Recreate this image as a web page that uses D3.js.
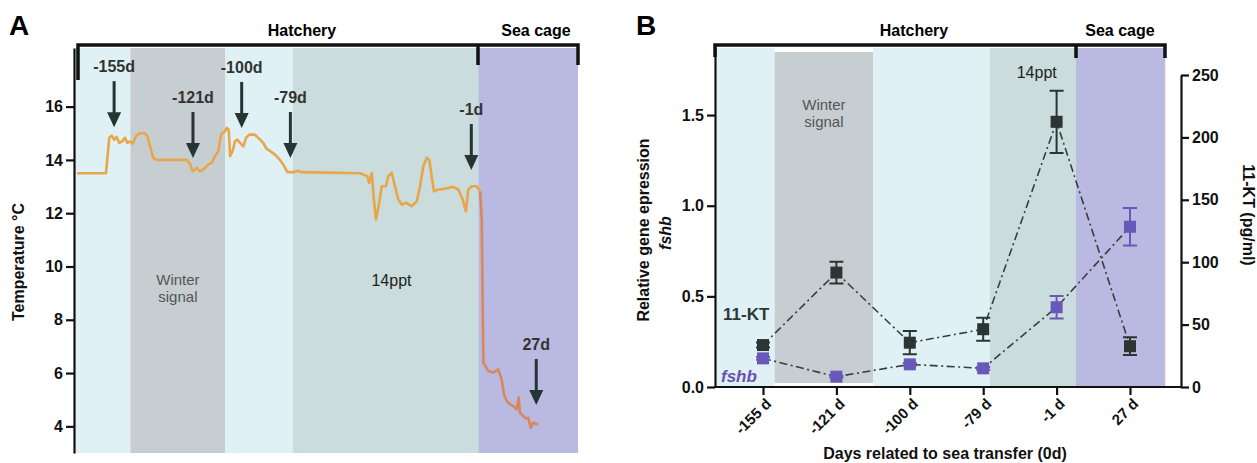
<!DOCTYPE html>
<html>
<head>
<meta charset="utf-8">
<script src="https://cdn.jsdelivr.net/npm/d3@7"></script>
<style>
body { margin: 0; background: #fff; }
svg { font-family: "Liberation Sans", Arial, sans-serif; }
</style>
</head>
<body>
<svg id="fig" width="1257" height="463"></svg>
<script>
// ---- panel A : water temperature (days relative to sea transfer) ----
var hatchDays = [-171, -158.5, -157.1, -156, -155, -153.9, -152.8, -151.5, -150.3, -149.3, -148.1, -147, -145.6, -144.1,
    -141.7, -140.7, -139.5, -138.1, -136.6, -123.7, -122.3, -121.1, -119.4, -118, -116.2, -114.4, -112.9, -111.5,
    -110.1, -109.3, -108.6, -107.2, -106.5, -105.6, -105, -103.9, -102.9, -101.9, -100.7, -99.3, -98.1, -96.7,
    -94.3, -92.4, -90.7, -89.2, -87.5, -85.6, -83.5, -82.1, -80.3, -77.7, -75.6, -74.1, -49, -45.8, -45, -43.9,
    -43, -42.1, -41.1, -39.6, -37.8, -36.8, -35.3, -33.9, -32.5, -31, -28.9, -26.7, -24.5, -23.1, -21.7, -20.2,
    -19.1, -18.1, -17.1, -15.2, -13.1, -10.9, -8.8, -6.6, -4.7, -3.3, -2.3, -0.8, 1.3, 2.8];
var hatchTemp = [13.5, 13.5, 14.83, 14.91, 14.76, 14.86, 14.64, 14.7, 14.83, 14.64, 14.7, 14.6, 14.89, 15.0,
    15.0, 14.89, 14.51, 14.07, 14.0, 14.0, 13.86, 13.57, 13.7, 13.57, 13.66, 13.83, 13.89, 14.14,
    14.32, 14.76, 15.0, 15.07, 15.2, 15.14, 14.14, 14.33, 14.7, 14.76, 14.64, 14.51, 14.83, 14.95,
    14.95, 14.79, 14.64, 14.41, 14.32, 14.2, 14.0, 13.83, 13.54, 13.54, 13.59, 13.54, 13.5, 13.39, 13.14, 13.51,
    12.51, 11.76, 12.2, 13.01, 13.01, 13.39, 13.51, 13.01, 12.51, 12.33, 12.39, 12.26, 12.45, 13.01, 13.76, 14.08,
    14.0, 13.39, 12.82, 12.89, 12.91, 12.95, 12.99, 12.89, 12.51, 12.07, 12.89, 13.01, 13.01, 12.82];
var seaDays = [2.8, 3.5, 4.2, 6.3, 8.5, 10.6, 12.1, 13.1, 14.3, 15.7, 17.1, 18.6, 19.4, 20, 21.4, 22.6, 23.6, 24.6, 25.7, 26.9, 27.9];
var seaTemp = [12.82, 11.76, 6.39, 6.08, 6.02, 6.14, 5.76, 5.2, 4.95, 4.83, 4.76, 4.64, 5.08, 4.51, 4.39, 4.29, 4.32, 3.95, 4.14, 4.08, 4.1];
var tempTicks = [4, 6, 8, 10, 12, 14, 16];

var arrowDays = [-155, -121, -100, -79, -1, 27];
var arrowLabels = ["-155d", "-121d", "-100d", "-79d", "-1d", "27d"];
var arrowTipTemp = [15.23, 14.07, 15.2, 14.07, 13.62, 4.8];

var regionKind = ["pre", "winter", "pre", "salt", "sea"];
var regionStartA = [-172, -148, -107, -78, 2];
var regionEndA = [-148, -107, -78, 2, 45];

// ---- panel B : fshb expression and 11-KT ----
var sampleLabels = ["-155 d", "-121 d", "-100 d", "-79 d", "-1 d", "27 d"];
var ktMean = [33.6, 91.7, 35.5, 46.3, 212.5, 32.7];
var ktErr = [2, 8.7, 9.3, 9.2, 24.9, 7.1];
var fshbMean = [0.158, 0.057, 0.125, 0.103, 0.44, 0.884];
var fshbErr = [0.008, 0.005, 0.008, 0.008, 0.062, 0.103];
var geneTicks = [0, 0.5, 1.0, 1.5];
var ktTicks = [0, 50, 100, 150, 200, 250];
// region edges in units of sample index
var regionStartB = [-0.63, 0.16, 1.5, 3.09, 4.26];
var regionEndB = [0.16, 1.5, 3.09, 4.26, 5.48];

var regionFill = {pre: "#e0f1f6", winter: "#c6ced1", salt: "#cadcdc", sea: "#b9b9e1"};
var ink = "#111";

var svg = d3.select("#fig");

function styleAxis(g) {
    g.selectAll("path, line").attr("stroke", ink).attr("stroke-width", 2.2);
    g.selectAll("text").attr("fill", ink).style("font-size", "16px").style("font-weight", "bold");
}

// ================= A =================
var xA = d3.scaleLinear().domain([-171, 45]).range([77, 578]);
var yA = d3.scaleLinear().domain([3, 18.2]).range([453, 48]);
var gA = svg.append("g");

gA.selectAll("rect.reg").data(regionKind).enter().append("rect")
    .attr("class", "reg")
    .attr("x", function(d, i) { return xA(regionStartA[i]); })
    .attr("width", function(d, i) { return xA(regionEndA[i]) - xA(regionStartA[i]); })
    .attr("y", yA(18.2))
    .attr("height", yA(3) - yA(18.2))
    .attr("fill", function(d) { return regionFill[d]; });

var wA = (xA(regionStartA[1]) + xA(regionEndA[1])) / 2;
var winterA = gA.append("text").attr("x", wA).attr("y", 285)
    .attr("text-anchor", "middle").attr("fill", "#555").style("font-size", "15px");
winterA.append("tspan").attr("x", wA).text("Winter");
winterA.append("tspan").attr("x", wA).attr("dy", 17).text("signal");
gA.append("text").attr("x", (xA(regionStartA[3]) + xA(regionEndA[3])) / 2 + 6).attr("y", 286)
    .attr("text-anchor", "middle").attr("fill", "#222").style("font-size", "16px").text("14ppt");

var lineA = d3.line().x(function(d) { return xA(d[0]); }).y(function(d) { return yA(d[1]); });
gA.append("path").datum(d3.zip(hatchDays, hatchTemp)).attr("d", lineA)
    .attr("fill", "none").attr("stroke", "#e8a64a").attr("stroke-width", 2.6).attr("stroke-linejoin", "round");
gA.append("path").datum(d3.zip(seaDays, seaTemp)).attr("d", lineA)
    .attr("fill", "none").attr("stroke", "#d8875c").attr("stroke-width", 2.6).attr("stroke-linejoin", "round");

// sampling arrows
var arrowCol = "#263434";
var arr = gA.selectAll("g.arrow").data(arrowDays).enter().append("g").attr("class", "arrow")
    .attr("transform", function(d, i) { return "translate(" + xA(d) + "," + yA(arrowTipTemp[i]) + ")"; });
arr.append("line").attr("x1", 0).attr("x2", 0).attr("y1", -46).attr("y2", -12)
    .attr("stroke", arrowCol).attr("stroke-width", 3);
arr.append("path").attr("d", "M-7,-15L7,-15L0,0Z").attr("fill", arrowCol);
arr.append("text").attr("y", -55).attr("text-anchor", "middle").attr("fill", "#333")
    .style("font-size", "16px").style("font-weight", "bold")
    .text(function(d, i) { return arrowLabels[i]; });

gA.append("g").attr("transform", "translate(74,0)")
    .call(d3.axisLeft(yA).tickValues(tempTicks).tickSize(8).tickSizeOuter(0).tickPadding(3))
    .call(styleAxis);

gA.append("text").attr("transform", "translate(24,262) rotate(-90)").attr("text-anchor", "middle")
    .attr("fill", ink).style("font-size", "16px").style("font-weight", "bold").text("Temperature °C");

gA.append("path").attr("d", "M78,80V45H578V65M478,45V65")
    .attr("fill", "none").attr("stroke", ink).attr("stroke-width", 3.5);
gA.append("text").attr("x", 302).attr("y", 36).attr("text-anchor", "middle")
    .style("font-size", "16px").style("font-weight", "bold").text("Hatchery");
gA.append("text").attr("x", 536).attr("y", 36).attr("text-anchor", "middle")
    .style("font-size", "16px").style("font-weight", "bold").text("Sea cage");
gA.append("text").attr("x", 9).attr("y", 35)
    .style("font-size", "28px").style("font-weight", "bold").text("A");

// ================= B =================
var xB = d3.scalePoint().domain(sampleLabels).range([763, 1130]);
var xIdx = d3.scaleLinear().domain([0, sampleLabels.length - 1]).range(xB.range());
var yG = d3.scaleLinear().domain([0, 1.87]).range([387, 48]);
var yK = d3.scaleLinear().domain([0, 250]).range([387, 75]);
var gB = svg.append("g");

gB.selectAll("rect.reg").data(regionKind).enter().append("rect")
    .attr("class", "reg")
    .attr("x", function(d, i) { return xIdx(regionStartB[i]); })
    .attr("width", function(d, i) { return xIdx(regionEndB[i]) - xIdx(regionStartB[i]); })
    .attr("y", function(d) { return d == "winter" ? yG(1.87) + 4 : yG(1.87); })
    .attr("height", function(d) { return d == "winter" ? yG(0) - yG(1.87) - 8 : yG(0) - yG(1.87); })
    .attr("fill", function(d) { return regionFill[d]; });

var wB = (xIdx(regionStartB[1]) + xIdx(regionEndB[1])) / 2;
var winterB = gB.append("text").attr("x", wB).attr("y", 110)
    .attr("text-anchor", "middle").attr("fill", "#555").style("font-size", "15px");
winterB.append("tspan").attr("x", wB).text("Winter");
winterB.append("tspan").attr("x", wB).attr("dy", 17).text("signal");
gB.append("text").attr("x", (xIdx(regionStartB[3]) + xIdx(regionEndB[3])) / 2 + 4).attr("y", 78)
    .attr("text-anchor", "middle").attr("fill", "#222").style("font-size", "16px").text("14ppt");

var series = [
    {mean: fshbMean, err: fshbErr, y: yG, col: "#6858b8"},
    {mean: ktMean, err: ktErr, y: yK, col: "#2b3634"}
];
series.forEach(function(s) {
    var pts = sampleLabels.map(function(c, i) { return [xB(c), s.y(s.mean[i]), s.y(s.mean[i] - s.err[i]), s.y(s.mean[i] + s.err[i])]; });
    gB.append("path").datum(pts)
        .attr("d", d3.line().x(function(d) { return d[0]; }).y(function(d) { return d[1]; }))
        .attr("fill", "none").attr("stroke", "#3c3c3c").attr("stroke-width", 1.6)
        .attr("stroke-dasharray", "8,3.5,2,3.5");
    var eb = gB.selectAll(null).data(pts).enter().append("g");
    eb.append("path")
        .attr("d", function(d) { return "M" + d[0] + "," + d[2] + "V" + d[3] + "M" + (d[0] - 7) + "," + d[2] + "H" + (d[0] + 7) + "M" + (d[0] - 7) + "," + d[3] + "H" + (d[0] + 7); })
        .attr("stroke", s.col).attr("stroke-width", 2).attr("fill", "none");
    eb.append("rect").attr("x", function(d) { return d[0] - 6; }).attr("y", function(d) { return d[1] - 6; })
        .attr("width", 12).attr("height", 12).attr("fill", s.col);
});

gB.append("text").attr("x", 723).attr("y", 320).attr("fill", "#2c3838")
    .style("font-size", "17px").style("font-weight", "bold").text("11-KT");
gB.append("text").attr("x", 721).attr("y", 382).attr("fill", "#6a50b0")
    .style("font-size", "17px").style("font-weight", "bold").style("font-style", "italic").text("fshb");

gB.append("g").attr("transform", "translate(715,0)")
    .call(d3.axisLeft(yG).tickValues(geneTicks).tickFormat(d3.format(".1f")).tickSize(8).tickSizeOuter(0).tickPadding(3))
    .call(styleAxis);
gB.append("g").attr("transform", "translate(1181,0)")
    .call(d3.axisRight(yK).tickValues(ktTicks).tickSize(8).tickSizeOuter(0).tickPadding(3))
    .call(styleAxis);
gB.append("line").attr("x1", 714).attr("x2", 1182).attr("y1", yG(0)).attr("y2", yG(0))
    .attr("stroke", ink).attr("stroke-width", 2.2);
var xAx = gB.append("g").attr("transform", "translate(0," + yG(0) + ")")
    .call(d3.axisBottom(xB).tickSize(8))
    .call(styleAxis);
xAx.select(".domain").remove();
xAx.selectAll("text").attr("x", 0).attr("y", 0).attr("dy", "0.35em")
    .attr("transform", "translate(5,14) rotate(-45)").style("text-anchor", "end").style("font-size", "15px");

gB.append("text").attr("x", 945).attr("y", 459).attr("text-anchor", "middle")
    .attr("fill", ink).style("font-size", "16px").style("font-weight", "bold").text("Days related to sea transfer (0d)");

gB.append("text").attr("transform", "translate(649,230) rotate(-90)").attr("text-anchor", "middle")
    .attr("fill", ink).style("font-size", "16px").style("font-weight", "bold").text("Relative gene epression");
gB.append("text").attr("transform", "translate(671,233) rotate(-90)").attr("text-anchor", "middle")
    .attr("fill", ink).style("font-size", "16px").style("font-weight", "bold").style("font-style", "italic").text("fshb");
gB.append("text").attr("transform", "translate(1243,215) rotate(90)").attr("text-anchor", "middle")
    .attr("fill", ink).style("font-size", "16px").style("font-weight", "bold").text("11-KT (pg/ml)");

gB.append("path").attr("d", "M715,57V45H1165V58M1076,45V58")
    .attr("fill", "none").attr("stroke", ink).attr("stroke-width", 3.5);
gB.append("text").attr("x", 914).attr("y", 36).attr("text-anchor", "middle")
    .style("font-size", "16px").style("font-weight", "bold").text("Hatchery");
gB.append("text").attr("x", 1120).attr("y", 36).attr("text-anchor", "middle")
    .style("font-size", "16px").style("font-weight", "bold").text("Sea cage");
gB.append("text").attr("x", 636).attr("y", 35)
    .style("font-size", "28px").style("font-weight", "bold").text("B");
</script>
</body>
</html>
